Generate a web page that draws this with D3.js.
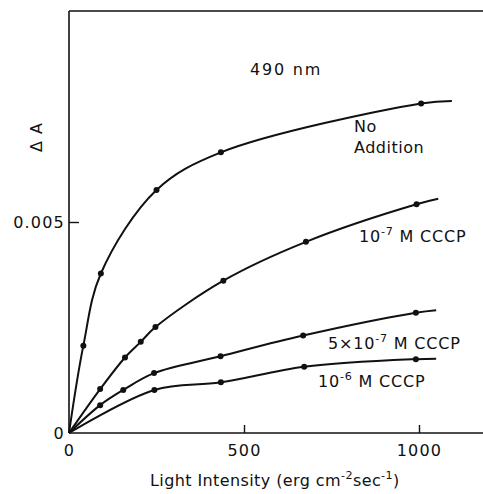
<!DOCTYPE html>
<html><head><meta charset="utf-8">
<script src="https://cdn.jsdelivr.net/npm/d3@7"></script>
<style>
html,body{margin:0;padding:0;background:#fff;}
svg{display:block;}
text{font-family:"DejaVu Sans",sans-serif;fill:#111;}
</style></head>
<body>
<script>
// ---- data (x: light intensity, erg cm^-2 sec^-1 ; y: ΔA) ----
const seriesNames = ["No Addition", "1e-7 M CCCP", "5e-7 M CCCP", "1e-6 M CCCP"];
const noAdditionX = [41, 91, 250, 434, 1006];
const noAdditionY = [0.00207, 0.00378, 0.00576, 0.00665, 0.00781];
const cccp1e7X = [89, 160, 205, 247, 441, 677, 993];
const cccp1e7Y = [0.00104, 0.00179, 0.00216, 0.00251, 0.00361, 0.00453, 0.00542];
const cccp5e7X = [89, 155, 243, 433, 669, 991];
const cccp5e7Y = [0.00066, 0.00102, 0.00142, 0.00182, 0.00231, 0.00285];
const cccp1e6X = [244, 434, 672, 991];
const cccp1e6Y = [0.00102, 0.00120, 0.00157, 0.00175];
// where each drawn curve ends (x, y)
const curveEndX = [1094, 1055, 1049, 1049];
const curveEndY = [0.00787, 0.00555, 0.00291, 0.00176];
const xTicks = [0, 500, 1000];
const xTickLabels = ["0", "500", "1000"];
const yTicks = [0, 0.005];
const yTickLabels = ["0", "0.005"];

const W = 483, H = 494;
const svg = d3.select("body").append("svg").attr("width", W).attr("height", H);

const x = d3.scaleLinear().domain([0, 1180]).range([69, 482]);
const y = d3.scaleLinear().domain([0, 0.010]).range([433, 11]);

const allX = [noAdditionX, cccp1e7X, cccp5e7X, cccp1e6X];
const allY = [noAdditionY, cccp1e7Y, cccp5e7Y, cccp1e6Y];

// frame: top line
svg.append("line").attr("x1", x(0)).attr("x2", W).attr("y1", y(0.010)).attr("y2", y(0.010))
  .attr("stroke", "#111").attr("stroke-width", 1.6);

// axes
const xAxis = d3.axisBottom(x).tickValues(xTicks).tickFormat((d, i) => xTickLabels[i])
  .tickSizeInner(-8).tickSizeOuter(0).tickPadding(12);
const gx = svg.append("g").attr("transform", `translate(0,${y(0)})`).call(xAxis);
gx.select(".domain").attr("d", `M${x(0)},0H${W}`);
const yAxis = d3.axisLeft(y).tickValues(yTicks).tickFormat((d, i) => yTickLabels[i])
  .tickSizeInner(-10).tickSizeOuter(0).tickPadding(4);
const gy = svg.append("g").attr("transform", `translate(${x(0)},0)`).call(yAxis);
gy.select(".domain").attr("d", `M0,${y(0)}V${y(0.010)}`);
[gx, gy].forEach(g => {
  g.selectAll(".domain").attr("stroke", "#111").attr("stroke-width", 1.6);
  g.selectAll(".tick line").attr("stroke", "#111").attr("stroke-width", 1.4);
  g.selectAll("text").attr("font-family", "DejaVu Sans").attr("font-size", 16)
    .attr("letter-spacing", 1.2).attr("fill", "#111");
});
gy.selectAll(".tick").filter(d => d === 0).select("line").remove();
gx.selectAll(".tick").filter(d => d === 0).select("line").remove();

// curves
const line = d3.line().x(d => x(d[0])).y(d => y(d[1])).curve(d3.curveCatmullRom.alpha(0.5));
allX.forEach((xs, i) => {
  const pts = [[0, 0]].concat(xs.map((v, j) => [v, allY[i][j]])).concat([[curveEndX[i], curveEndY[i]]]);
  svg.append("path").datum(pts).attr("d", line).attr("fill", "none")
    .attr("stroke", "#111").attr("stroke-width", 2);
  svg.append("g").selectAll("circle").data(xs.map((v, j) => [v, allY[i][j]])).join("circle")
    .attr("cx", d => x(d[0])).attr("cy", d => y(d[1])).attr("r", 3).attr("fill", "#111");
});

// text helper with superscripts
function label(px, py, parts, size, ls) {
  const t = svg.append("text").attr("x", px).attr("y", py).attr("font-size", size)
    .attr("letter-spacing", ls);
  let pending = 0;
  parts.forEach(p => {
    if (typeof p === "string") {
      t.append("tspan").attr("dy", pending).text(p);
      pending = 0;
    } else {
      t.append("tspan").attr("font-size", size * 0.7).attr("dy", pending - size * 0.45).text(p.sup);
      pending = size * 0.45;
    }
  });
  return t;
}

label(250, 75, ["490 nm"], 16, 1.8);
label(354, 132, ["No"], 16, 0.5);
label(354, 153, ["Addition"], 16, 0.5);
label(359, 242, ["10", {sup: "-7"}, " M  CCCP"], 16, 0.8);
label(328, 349, ["5×10", {sup: "-7"}, " M  CCCP"], 16, 0.8);
label(318, 387, ["10", {sup: "-6"}, " M  CCCP"], 16, 0.8);
label(150, 486, ["Light  Intensity (erg cm", {sup: "-2"}, "sec", {sup: "-1"}, ")"], 16, 0.4);

svg.append("text").attr("transform", "translate(42,137) rotate(-90)")
  .attr("text-anchor", "middle").attr("font-size", 16).attr("letter-spacing", 1)
  .text("\u0394 A");
</script>
</body></html>
